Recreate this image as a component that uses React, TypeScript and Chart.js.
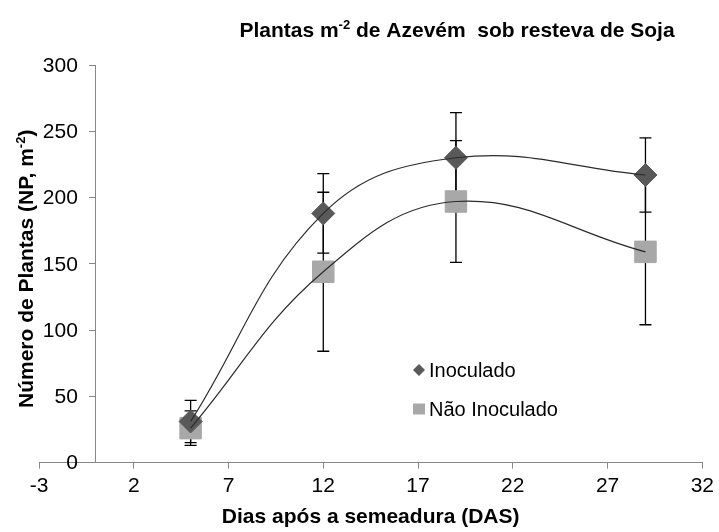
import React, { useEffect, useRef } from "react";
import { Chart, registerables } from "chart.js";

Chart.register(...registerables);

// ---- data ----
const xTickValues = [-3, 2, 7, 12, 17, 22, 27, 32];
const yTickValues = [0, 50, 100, 150, 200, 250, 300];

const seriesNames = ["Inoculado", "Não Inoculado"];

const dasInoculado = [5, 12, 19, 29];
const plantasInoculado = [31, 188, 230, 217];
const erroInoculado = [16, 30, 34, 28];

const dasNaoInoculado = [5, 12, 19, 29];
const plantasNaoInoculado = [26, 144, 197, 159];
const erroNaoInoculado = [13, 60, 46, 55];

const titleParts = ["Plantas m", "-2", " de Azevém  sob resteva de Soja"];
const yTitleParts = ["Número de Plantas (NP, m", "-2", ")"];
const xTitle = "Dias após a semeadura (DAS)";

// ---- styles ----
const FONT = "'Liberation Sans', Arial, sans-serif";
const AXIS_GRAY = "#868686";
const DIAMOND = "#595959";
const SQUARE = "#A8A8A8";

function drawRich(
  ctx: CanvasRenderingContext2D,
  parts: string[],
  cx: number,
  cy: number,
  size: number,
  weight: string
) {
  const supSize = Math.round(size * 0.62);
  const mainFont = `${weight} ${size}px ${FONT}`;
  const supFont = `${weight} ${supSize}px ${FONT}`;
  const widths = parts.map((p, i) => {
    ctx.font = i % 2 === 1 ? supFont : mainFont;
    return ctx.measureText(p).width;
  });
  const total = widths.reduce((a, b) => a + b, 0);
  let x = cx - total / 2;
  ctx.textBaseline = "alphabetic";
  ctx.textAlign = "left";
  const baseline = cy + size * 0.36;
  parts.forEach((p, i) => {
    const sup = i % 2 === 1;
    ctx.font = sup ? supFont : mainFont;
    ctx.fillText(p, x, sup ? baseline - size * 0.38 : baseline);
    x += widths[i];
  });
}

const errorBarPlugin = {
  id: "errorBars",
  beforeDatasetsDraw(chart: any) {
    const xs = chart.scales.x;
    const ys = chart.scales.y;
    const ctx = chart.ctx as CanvasRenderingContext2D;
    const groups = [
      { xv: dasInoculado, yv: plantasInoculado, ev: erroInoculado },
      { xv: dasNaoInoculado, yv: plantasNaoInoculado, ev: erroNaoInoculado },
    ];
    ctx.save();
    ctx.strokeStyle = "#000";
    ctx.lineWidth = 1.3;
    groups.forEach((g) => {
      g.xv.forEach((xv, i) => {
        const px = xs.getPixelForValue(xv);
        const top = ys.getPixelForValue(g.yv[i] + g.ev[i]);
        const bot = ys.getPixelForValue(g.yv[i] - g.ev[i]);
        ctx.beginPath();
        ctx.moveTo(px, top);
        ctx.lineTo(px, bot);
        ctx.moveTo(px - 6, top);
        ctx.lineTo(px + 6, top);
        ctx.moveTo(px - 6, bot);
        ctx.lineTo(px + 6, bot);
        ctx.stroke();
      });
    });
    ctx.restore();
  },
};

const textPlugin = {
  id: "texts",
  afterDraw(chart: any) {
    const ctx = chart.ctx as CanvasRenderingContext2D;
    const xs = chart.scales.x;
    const ys = chart.scales.y;
    const axisX = xs.getPixelForValue(0);
    ctx.save();
    ctx.fillStyle = "#000";
    // y tick labels
    ctx.font = `21px ${FONT}`;
    ctx.textAlign = "right";
    ctx.textBaseline = "middle";
    ys.ticks.forEach((t: any) => {
      ctx.fillText(String(t.value), axisX - 18, ys.getPixelForValue(t.value) + 1);
    });
    // chart title
    ctx.fillStyle = "#000";
    drawRich(ctx, titleParts, 457, 29, 21, "bold");
    // y title
    ctx.save();
    ctx.translate(25, (chart.chartArea.top + chart.chartArea.bottom) / 2 + 5);
    ctx.rotate(-Math.PI / 2);
    drawRich(ctx, yTitleParts, 0, 0, 21, "bold");
    ctx.restore();
    // legend
    const lx = 419;
    const ly1 = 370;
    const ly2 = 409;
    ctx.fillStyle = DIAMOND;
    ctx.beginPath();
    ctx.moveTo(lx, ly1 - 6);
    ctx.lineTo(lx + 6, ly1);
    ctx.lineTo(lx, ly1 + 6);
    ctx.lineTo(lx - 6, ly1);
    ctx.closePath();
    ctx.fill();
    ctx.fillStyle = SQUARE;
    ctx.fillRect(lx - 6, ly2 - 5.5, 12, 11);
    ctx.fillStyle = "#000";
    ctx.font = `20px ${FONT}`;
    ctx.textAlign = "left";
    ctx.textBaseline = "middle";
    ctx.fillText(seriesNames[0], 429, ly1 + 1);
    ctx.fillText(seriesNames[1], 429, ly2 + 1);
    ctx.restore();
  },
};

export default function App() {
  const ref = useRef<HTMLCanvasElement | null>(null);
  useEffect(() => {
    document.body.style.margin = "0";
    document.body.style.overflow = "hidden";
    const canvas = ref.current;
    if (!canvas) return;
    const pts = (xv: number[], yv: number[]) => xv.map((x, i) => ({ x, y: yv[i] }));
    const chart = new Chart(canvas, {
      type: "scatter",
      data: {
        datasets: [
          {
            label: seriesNames[0] + " tendência",
            data: pts(dasInoculado, plantasInoculado),
            showLine: true,
            pointRadius: 0,
            borderColor: "#2b2b2b",
            borderWidth: 1.2,
            tension: 0.4,
            order: 0,
          },
          {
            label: seriesNames[1] + " tendência",
            data: pts(dasNaoInoculado, plantasNaoInoculado),
            showLine: true,
            pointRadius: 0,
            borderColor: "#2b2b2b",
            borderWidth: 1.2,
            tension: 0.4,
            order: 0,
          },
          {
            label: seriesNames[0],
            data: pts(dasInoculado, plantasInoculado),
            pointStyle: "rectRot",
            pointRadius: 11.5,
            backgroundColor: DIAMOND,
            borderColor: DIAMOND,
            borderWidth: 1,
            order: 1,
          },
          {
            label: seriesNames[1],
            data: pts(dasNaoInoculado, plantasNaoInoculado),
            pointStyle: "rect",
            pointRadius: 15.2,
            backgroundColor: SQUARE,
            borderColor: SQUARE,
            borderWidth: 1,
            order: 1,
          },
        ],
      } as any,
      options: {
        animation: false,
        responsive: true,
        maintainAspectRatio: false,
        layout: { padding: { left: 39, right: 6, top: 65, bottom: 2 } },
        plugins: {
          legend: { display: false },
          tooltip: { enabled: false },
          title: { display: false },
        },
        scales: {
          x: {
            type: "linear",
            min: -3,
            max: 32,
            afterBuildTicks: (s: any) => {
              s.ticks = xTickValues.map((v) => ({ value: v }));
            },
            grid: { drawOnChartArea: false, drawTicks: true, tickLength: 6, color: AXIS_GRAY },
            border: { color: AXIS_GRAY, width: 1 },
            ticks: {
              font: { family: FONT, size: 21 },
              color: "#000",
              padding: 5,
              maxRotation: 0,
              autoSkip: false,
            },
            title: {
              display: true,
              text: xTitle,
              color: "#000",
              font: { family: FONT, size: 21, weight: "bold" },
              padding: { top: 1, bottom: 0 },
            },
          },
          y: {
            type: "linear",
            min: 0,
            max: 300,
            position: { x: 0 },
            afterBuildTicks: (s: any) => {
              s.ticks = yTickValues.map((v) => ({ value: v }));
            },
            grid: { drawOnChartArea: false, drawTicks: true, tickLength: 6, color: AXIS_GRAY },
            border: { color: AXIS_GRAY, width: 1 },
            ticks: { display: false },
          },
        },
      } as any,
      plugins: [errorBarPlugin, textPlugin],
    });
    return () => chart.destroy();
  }, []);
  return (
    <div style={{ width: 719, height: 532, position: "relative" }}>
      <canvas ref={ref} />
    </div>
  );
}
